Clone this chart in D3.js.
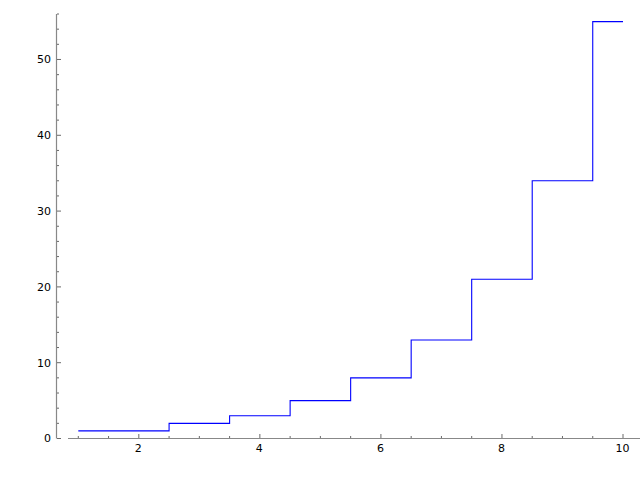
<!DOCTYPE html>
<html><head><meta charset="utf-8">
<script src="https://cdn.jsdelivr.net/npm/d3@7"></script>
<style>body{margin:0;background:#fff}</style>
</head><body>
<svg id="c" width="640" height="480"></svg>
<script>
const xs = [1,2,3,4,5,6,7,8,9,10];
const ys = [1,1,2,3,5,8,13,21,34,55];
const xMajor = [2,4,6,8,10];
const yMajor = [0,10,20,30,40,50];

const svg = d3.select("#c");
const x = d3.scaleLinear().domain([1,10]).range([78.3,623]);
const y = d3.scaleLinear().domain([0,56]).range([438.5,14]);
const axisColor = "#888";
const font = "DejaVu Sans, sans-serif";

// x axis line
svg.append("line").attr("x1",68).attr("x2",661).attr("y1",438.5).attr("y2",438.5)
  .attr("stroke",axisColor).attr("stroke-width",1.2);
// y axis line
svg.append("line").attr("x1",56.5).attr("x2",56.5).attr("y1",14).attr("y2",438.5)
  .attr("stroke",axisColor).attr("stroke-width",1.2);

// x minor ticks
const xMinor = d3.range(1,10.01,0.5).filter(v=>!xMajor.includes(v));
svg.selectAll(".xmin").data(xMinor).join("line")
  .attr("x1",d=>x(d)).attr("x2",d=>x(d)).attr("y1",438).attr("y2",436)
  .attr("stroke","#444").attr("stroke-width",0.8);
svg.selectAll(".xmaj").data(xMajor).join("line")
  .attr("x1",d=>x(d)).attr("x2",d=>x(d)).attr("y1",438).attr("y2",434)
  .attr("stroke","#444").attr("stroke-width",0.8);
svg.selectAll(".xlab").data(xMajor).join("text")
  .attr("x",d=>x(d)-0.5).attr("y",452).attr("text-anchor","middle")
  .attr("font-family",font).attr("font-size",11).attr("fill","#000").text(d=>d);

// y ticks
const yMinor = d3.range(0,56.01,2).filter(v=>!yMajor.includes(v));
svg.selectAll(".ymin").data(yMinor).join("line")
  .attr("x1",57).attr("x2",59).attr("y1",d=>y(d)).attr("y2",d=>y(d))
  .attr("stroke","#444").attr("stroke-width",0.8);
svg.selectAll(".ymaj").data(yMajor).join("line")
  .attr("x1",57).attr("x2",61).attr("y1",d=>y(d)).attr("y2",d=>y(d))
  .attr("stroke","#444").attr("stroke-width",0.8);
svg.selectAll(".ylab").data(yMajor).join("text")
  .attr("x",51).attr("y",d=>y(d)).attr("dy","0.35em").attr("text-anchor","end")
  .attr("font-family",font).attr("font-size",11).attr("fill","#000").text(d=>d);

// step line
const pts = xs.map((v,i)=>[v,ys[i]]);
const line = d3.line().x(d=>x(d[0])).y(d=>y(d[1])).curve(d3.curveStep);
svg.append("path").attr("d",line(pts)).attr("fill","none")
  .attr("stroke","#0000ff").attr("stroke-width",1.1);
</script>
</body></html>
